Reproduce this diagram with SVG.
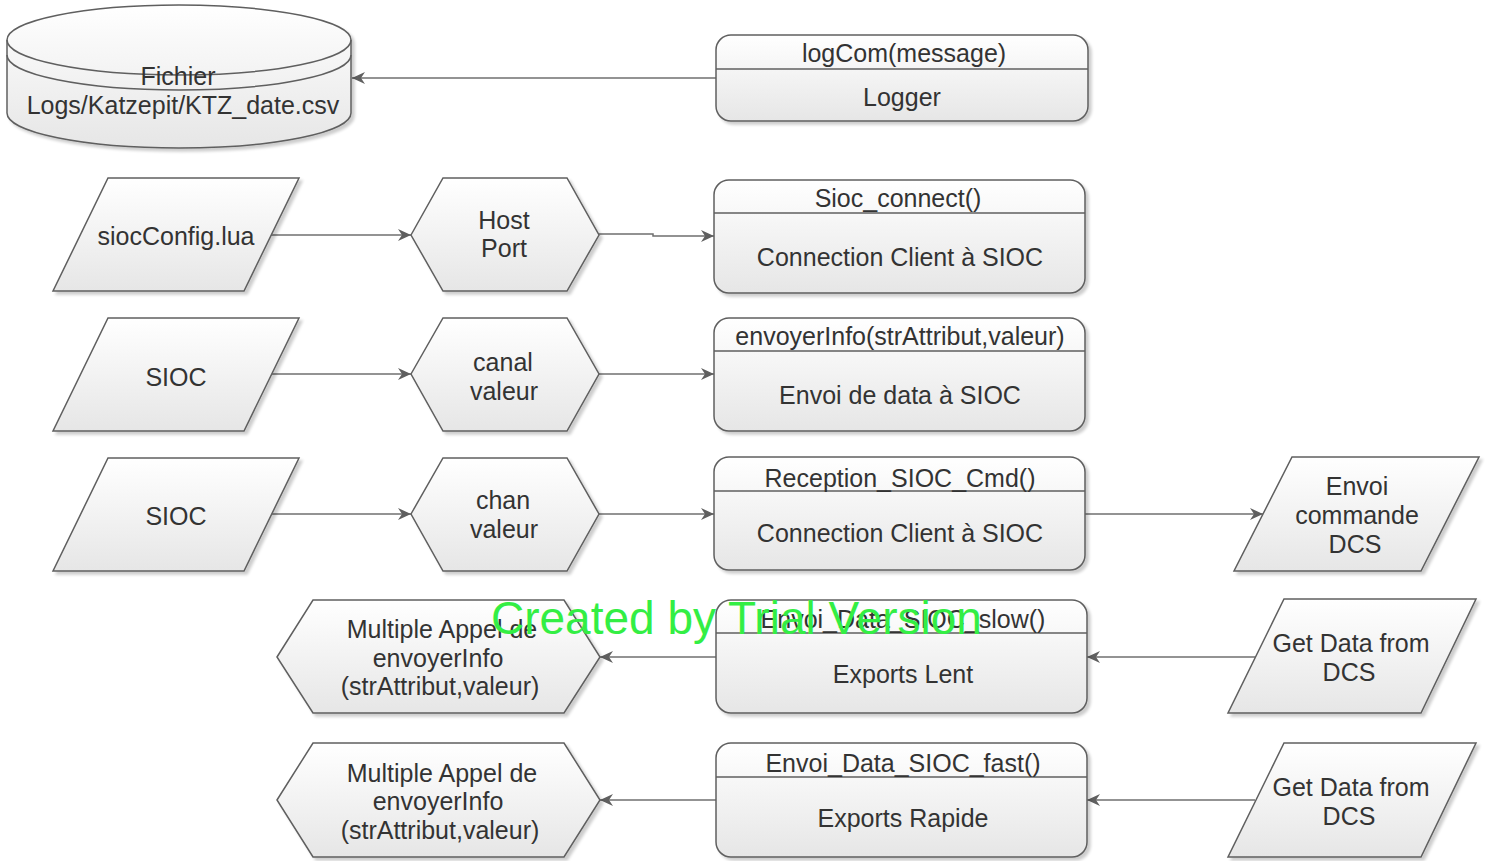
<svg xmlns="http://www.w3.org/2000/svg" width="1491" height="861" viewBox="0 0 1491 861">
<defs>
<linearGradient id="g" x1="0" y1="0" x2="0" y2="1">
<stop offset="0" stop-color="#ffffff"/>
<stop offset="1" stop-color="#e6e6e6"/>
</linearGradient>
<filter id="sh" x="-5%" y="-5%" width="115%" height="120%">
<feGaussianBlur in="SourceAlpha" stdDeviation="1.5"/>
<feOffset dx="3" dy="3" result="b"/>
<feComponentTransfer><feFuncA type="linear" slope="0.2"/></feComponentTransfer>
<feMerge><feMergeNode/><feMergeNode in="SourceGraphic"/></feMerge>
</filter>
<marker id="arr" markerWidth="14" markerHeight="12" refX="13" refY="6" orient="auto" markerUnits="userSpaceOnUse">
<path d="M0,0 L13,6 L0,12 L4,6 z" fill="#5f5f5f"/>
</marker>
<style>
.s{fill:url(#g);stroke:#5f5f5f;stroke-width:1.5;filter:url(#sh)}
.l{fill:none;stroke:#5f5f5f;stroke-width:1.5}
.c{fill:none;stroke:#6f6f6f;stroke-width:1.5;marker-end:url(#arr)}
text{font-family:"Liberation Sans",Arial,sans-serif;font-size:25px;fill:#333;text-anchor:middle}
.wm{font-size:46px;fill:#33ee44;text-anchor:start}
</style>
</defs>

<g id="connectors">
<line class="c" x1="716" y1="78" x2="352" y2="78"/>
<line class="c" x1="271" y1="235" x2="411" y2="235"/>
<polyline class="c" points="599,234 653,234 653,236 714,236"/>
<line class="c" x1="271" y1="374" x2="411" y2="374"/>
<line class="c" x1="599" y1="374" x2="714" y2="374"/>
<line class="c" x1="271" y1="514" x2="411" y2="514"/>
<line class="c" x1="599" y1="514" x2="714" y2="514"/>
<line class="c" x1="1085" y1="514" x2="1263" y2="514"/>
<line class="c" x1="716" y1="657" x2="600" y2="657"/>
<line class="c" x1="1255" y1="657" x2="1087" y2="657"/>
<line class="c" x1="716" y1="800" x2="600" y2="800"/>
<line class="c" x1="1255" y1="800" x2="1087" y2="800"/>
</g>

<g id="fichier">
<path class="s" d="M7,40 A172,35 0 0 1 351,40 L351,113 A172,35 0 0 1 7,113 Z"/>
<path class="l" d="M7,40 A172,35 0 0 0 351,40"/>
<path class="l" d="M7,55 A172,35 0 0 0 351,55"/>
<text x="178" y="85">Fichier</text>
<text x="183" y="114">Logs/Katzepit/KTZ_date.csv</text>
</g>

<g id="logger">
<rect class="s" x="716" y="35" width="372" height="86" rx="15"/>
<line class="l" x1="716" y1="69" x2="1088" y2="69"/>
<text x="904" y="62">logCom(message)</text>
<text x="902" y="106">Logger</text>
</g>

<g id="siocconfig">
<polygon class="s" points="108,178 299,178 244,291 53,291"/>
<text x="176" y="245">siocConfig.lua</text>
</g>
<g id="hostport">
<polygon class="s" points="411,235 443,178 567,178 599,235 567,291 443,291"/>
<text x="504" y="229">Host</text>
<text x="504" y="257">Port</text>
</g>
<g id="siocconnect">
<rect class="s" x="714" y="180" width="371" height="113" rx="15"/>
<line class="l" x1="714" y1="213" x2="1085" y2="213"/>
<text x="898" y="207">Sioc_connect()</text>
<text x="900" y="266">Connection Client à SIOC</text>
</g>

<g id="sioc1">
<polygon class="s" points="108,318 299,318 244,431 53,431"/>
<text x="176" y="386">SIOC</text>
</g>
<g id="canal">
<polygon class="s" points="411,374 443,318 567,318 599,374 567,431 443,431"/>
<text x="503" y="371">canal</text>
<text x="504" y="400">valeur</text>
</g>
<g id="envoyerinfo">
<rect class="s" x="714" y="318" width="371" height="113" rx="15"/>
<line class="l" x1="714" y1="351" x2="1085" y2="351"/>
<text x="900" y="345">envoyerInfo(strAttribut,valeur)</text>
<text x="900" y="404">Envoi de data à SIOC</text>
</g>

<g id="sioc2">
<polygon class="s" points="108,458 299,458 244,571 53,571"/>
<text x="176" y="525">SIOC</text>
</g>
<g id="chan">
<polygon class="s" points="411,514 443,458 567,458 599,514 567,571 443,571"/>
<text x="503" y="509">chan</text>
<text x="504" y="538">valeur</text>
</g>
<g id="reception">
<rect class="s" x="714" y="457" width="371" height="113" rx="15"/>
<line class="l" x1="714" y1="491" x2="1085" y2="491"/>
<text x="900" y="487">Reception_SIOC_Cmd()</text>
<text x="900" y="542">Connection Client à SIOC</text>
</g>
<g id="envoicommande">
<polygon class="s" points="1292,457 1479,457 1421,571 1234,571"/>
<text x="1357" y="495">Envoi</text>
<text x="1357" y="524">commande</text>
<text x="1355" y="553">DCS</text>
</g>

<g id="multiple1">
<polygon class="s" points="277,657 313,600 564,600 600,657 564,713 313,713"/>
<text x="442" y="638">Multiple Appel de</text>
<text x="438" y="667">envoyerInfo</text>
<text x="440" y="695">(strAttribut,valeur)</text>
</g>
<g id="slow">
<rect class="s" x="716" y="600" width="371" height="113" rx="15"/>
<line class="l" x1="716" y1="633" x2="1087" y2="633"/>
<text x="903" y="628">Envoi_Data_SIOC_slow()</text>
<text x="903" y="683">Exports Lent</text>
</g>
<g id="getdata1">
<polygon class="s" points="1284,599 1476,599 1421,713 1228,713"/>
<text x="1351" y="652">Get Data from</text>
<text x="1349" y="681">DCS</text>
</g>

<g id="multiple2">
<polygon class="s" points="277,800 313,743 564,743 600,800 564,857 313,857"/>
<text x="442" y="782">Multiple Appel de</text>
<text x="438" y="810">envoyerInfo</text>
<text x="440" y="839">(strAttribut,valeur)</text>
</g>
<g id="fast">
<rect class="s" x="716" y="743" width="371" height="114" rx="15"/>
<line class="l" x1="716" y1="777" x2="1087" y2="777"/>
<text x="903" y="772">Envoi_Data_SIOC_fast()</text>
<text x="903" y="827">Exports Rapide</text>
</g>
<g id="getdata2">
<polygon class="s" points="1284,743 1476,743 1421,857 1228,857"/>
<text x="1351" y="796">Get Data from</text>
<text x="1349" y="825">DCS</text>
</g>

<text class="wm" x="491" y="634">Created by Trial Version</text>
</svg>
